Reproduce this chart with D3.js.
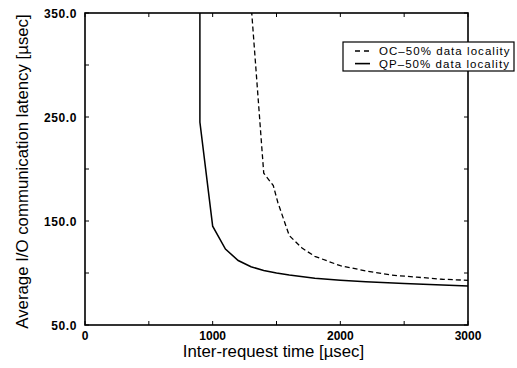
<!DOCTYPE html>
<html><head><meta charset="utf-8">
<script src="https://cdn.jsdelivr.net/npm/d3@7"></script>
<style>
body{margin:0;background:#fff;}
text{font-family:"Liberation Sans",Arial,sans-serif;fill:#000;}
</style></head>
<body><svg id="c" width="517" height="368"></svg>
<script>
const xTicks = [0, 1000, 2000, 3000];
const xMinor = [500, 1500, 2500];
const yTicks = [50, 150, 250, 350];
const yMinor = [100, 200, 300];
const ocX = [1300, 1400, 1475, 1510, 1600, 1700, 1800, 2000, 2200, 2400, 2600, 2800, 3000];
const ocY = [360, 196, 184, 168, 136, 124, 116, 107, 102, 98, 96, 94, 93];
const qpX = [900, 900, 1000, 1100, 1200, 1300, 1400, 1500, 1600, 1800, 2000, 2200, 2500, 2800, 3000];
const qpY = [360, 245, 145, 123, 112, 106, 102.5, 100, 98, 95, 93, 91.5, 90, 88.5, 87.5];
const seriesNames = ["OC\u201350% data locality", "QP\u201350% data locality"];

const svg = d3.select("#c");
const L = 85, R = 468, T = 13, B = 325;
const x = d3.scaleLinear().domain([0, 3000]).range([L, R]);
const y = d3.scaleLinear().domain([50, 350]).range([B, T]);

svg.append("defs").append("clipPath").attr("id","clip")
  .append("rect").attr("x",L).attr("y",T).attr("width",R-L).attr("height",B-T);

const line = d3.line().x(d=>x(d[0])).y(d=>y(d[1]));
const oc = ocX.map((v,i)=>[v, ocY[i]]);
const qp = qpX.map((v,i)=>[v, qpY[i]]);

const g = svg.append("g").attr("clip-path","url(#clip)");
g.append("path").datum(oc).attr("d",line).attr("fill","none")
  .attr("stroke","#000").attr("stroke-width",1.3).attr("stroke-dasharray","5,3");
g.append("path").datum(qp).attr("d",line).attr("fill","none")
  .attr("stroke","#000").attr("stroke-width",1.5);

// axes with inward ticks on all sides
const tk = 4;
const allX = xTicks.concat(xMinor);
const allY = yTicks.concat(yMinor);
const ax = svg.append("g").attr("stroke","#000").attr("stroke-width",1);
allX.forEach(v=>{
  ax.append("line").attr("x1",x(v)).attr("x2",x(v)).attr("y1",B).attr("y2",B-tk);
  ax.append("line").attr("x1",x(v)).attr("x2",x(v)).attr("y1",T).attr("y2",T+tk);
});
allY.forEach(v=>{
  ax.append("line").attr("y1",y(v)).attr("y2",y(v)).attr("x1",L).attr("x2",L+tk);
  ax.append("line").attr("y1",y(v)).attr("y2",y(v)).attr("x1",R).attr("x2",R-tk);
});
svg.append("rect").attr("x",L).attr("y",T).attr("width",R-L).attr("height",B-T)
  .attr("fill","none").attr("stroke","#000").attr("stroke-width",1.6);

svg.append("g").selectAll("text").data(xTicks).join("text")
  .attr("x",d=>x(d)).attr("y",B+14.5).attr("text-anchor","middle")
  .attr("font-size",12).attr("font-weight","bold").text(d=>d);
svg.append("g").selectAll("text").data(yTicks).join("text")
  .attr("x",L-8).attr("y",d=>y(d)+4.5).attr("text-anchor","end")
  .attr("font-size",12).attr("font-weight","bold").attr("letter-spacing",0.6).text(d=>d.toFixed(1));

svg.append("text").attr("x",273.5).attr("y",357).attr("text-anchor","middle")
  .attr("font-size",16.8).text("Inter-request time [\u00b5sec]");
svg.append("text").attr("transform","translate(28,171.5) rotate(-90)")
  .attr("text-anchor","middle").attr("font-size",16.8)
  .text("Average I/O communication latency [\u00b5sec]");

// legend
const lg = svg.append("g");
lg.append("rect").attr("x",343).attr("y",42).attr("width",171).attr("height",29)
  .attr("fill","#fff").attr("stroke","#000").attr("stroke-width",1.2);
const styles = [{dash:"5,4",w:1.3},{dash:null,w:1.6}];
seriesNames.forEach((s,i)=>{
  const yy = 51 + i*12.6;
  lg.append("line").attr("x1",355).attr("x2",370).attr("y1",yy).attr("y2",yy)
    .attr("stroke","#000").attr("stroke-width",styles[i].w)
    .attr("stroke-dasharray",styles[i].dash);
  lg.append("text").attr("x",379).attr("y",yy+4).attr("font-size",11.5)
    .attr("letter-spacing",1.05).text(s);
});
</script></body></html>
